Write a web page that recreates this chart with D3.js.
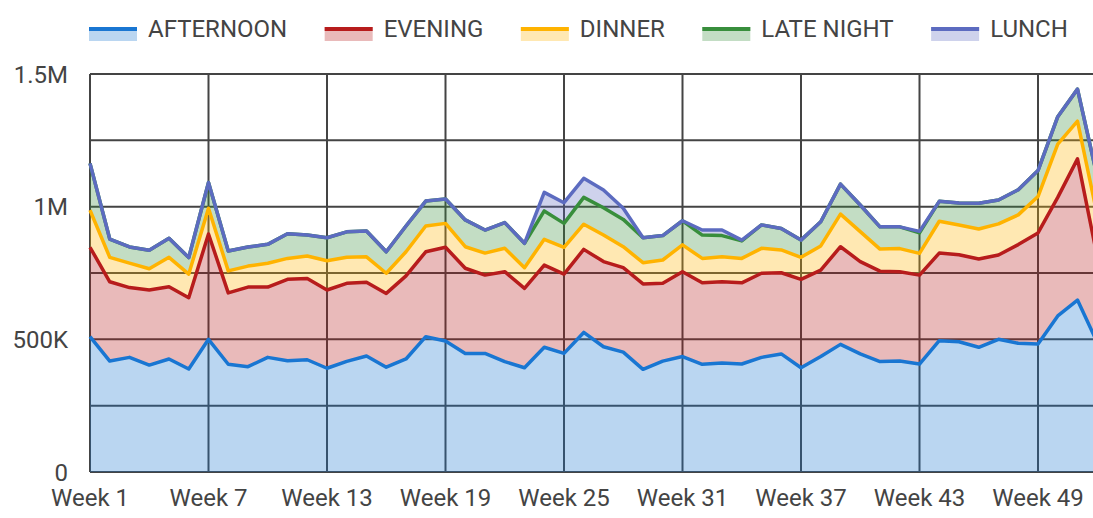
<!DOCTYPE html>
<html>

<head>
    <meta charset="utf-8">
    <style>
        body {
            margin: 0;
            background: white;
        }

        svg {
            display: block;
            overflow: hidden;
            font-family: Roboto, 'Noto Sans', sans-serif;
        }

        .label {
            font-size: 24px;
            fill: #444;
        }
    </style>
</head>

<body>
    <svg width="1093" height="518" id="chart"></svg>
</body>

<script src="https://d3js.org/d3.v7.min.js"></script>

<script>

    // weekly values (thousands)
    let weeks = d3.range(1, 53)
    let afternoon = [510, 418, 432, 403, 426, 388, 500, 406, 397, 432, 419, 423, 391, 417, 437, 395, 426, 510, 494, 447, 447, 416, 393, 470, 447, 526, 472, 452, 387, 418, 435, 406, 411, 407, 432, 445, 393, 435, 481, 445, 416, 418, 407, 495, 491, 470, 500, 485, 482, 588, 648, 488]
    let evening = [337, 299, 263, 283, 272, 269, 397, 269, 300, 265, 307, 306, 295, 294, 278, 278, 313, 320, 353, 321, 295, 339, 299, 310, 299, 313, 321, 318, 322, 293, 320, 307, 306, 306, 317, 306, 333, 326, 368, 348, 341, 337, 335, 330, 328, 333, 318, 372, 419, 447, 532, 322]
    let dinner = [140, 92, 92, 80, 111, 89, 97, 83, 79, 90, 79, 85, 110, 98, 96, 76, 91, 97, 90, 81, 83, 88, 78, 97, 101, 95, 100, 79, 80, 88, 101, 92, 94, 92, 94, 86, 83, 91, 123, 113, 83, 87, 82, 120, 112, 113, 117, 112, 137, 201, 142, 158]
    let lateNight = [176, 69, 61, 70, 72, 62, 97, 75, 72, 71, 93, 79, 87, 96, 97, 81, 97, 94, 92, 101, 87, 97, 92, 107, 90, 101, 103, 103, 94, 92, 91, 88, 80, 66, 88, 81, 65, 91, 113, 100, 84, 82, 77, 75, 83, 97, 90, 95, 98, 103, 121, 144]
    let lunch = [0, 0, 0, 0, 0, 0, 0, 0, 0, 0, 0, 0, 0, 0, 0, 0, 0, 0, 0, 0, 0, 0, 0, 70, 78, 72, 67, 42, 0, 0, 0, 19, 21, 3, 0, 0, 0, 0, 0, 0, 0, 0, 6, 0, 0, 0, 0, 0, 0, 0, 0, 0]

    let seriesNames = ["AFTERNOON", "EVENING", "DINNER", "LATE NIGHT", "LUNCH"]
    let seriesColors = ["#1976d2", "#b71c1c", "#ffb300", "#388e3c", "#5c6bc0"]
    let yTicks = [0, 250000, 500000, 750000, 1000000, 1250000, 1500000]
    let yLabels = { 0: "0", 500000: "500K", 1000000: "1M", 1500000: "1.5M" }
    let xTicks = [1, 7, 13, 19, 25, 31, 37, 43, 49]

    let allSeries = [afternoon, evening, dinner, lateNight, lunch]
    let rows = weeks.map((w, i) => {
        let r = { week: w }
        seriesNames.forEach((n, j) => r[n] = allSeries[j][i] * 1000)
        return r
    })

    let svg = d3.select("#chart")

    let x = d3.scaleLinear()
        .domain([1, 52])
        .range([90, 1097.25])

    let y = d3.scaleLinear()
        .domain([0, 1500000])
        .range([472, 74])

    // grid
    let grid = svg.append("g").attr("class", "grid")
    grid.selectAll("line.h")
        .data(yTicks)
        .join("line")
        .attr("class", "h")
        .attr("x1", x(1))
        .attr("x2", x(52))
        .attr("y1", d => y(d))
        .attr("y2", d => y(d))
        .attr("stroke", "#444")
        .attr("stroke-width", 2)
    grid.selectAll("line.v")
        .data(xTicks)
        .join("line")
        .attr("class", "v")
        .attr("x1", d => x(d))
        .attr("x2", d => x(d))
        .attr("y1", y(0))
        .attr("y2", y(1500000))
        .attr("stroke", "#444")
        .attr("stroke-width", 2)

    let stack = d3.stack().keys(seriesNames)
    let layers = stack(rows)

    let area = d3.area()
        .x(d => x(d.data.week))
        .y0(d => y(d[0]))
        .y1(d => y(d[1]))

    let line = d3.line()
        .x(d => x(d.data.week))
        .y(d => y(d[1]))

    svg.append("g")
        .selectAll("path")
        .data(layers)
        .join("path")
        .attr("d", area)
        .attr("fill", (d, i) => seriesColors[i])
        .attr("fill-opacity", 0.3)

    svg.append("g")
        .selectAll("path")
        .data(layers)
        .join("path")
        .attr("d", line)
        .attr("fill", "none")
        .attr("stroke", (d, i) => seriesColors[i])
        .attr("stroke-width", 3.5)
        .attr("stroke-linejoin", "round")

    // axis labels
    svg.append("g")
        .selectAll("text")
        .data(yTicks.filter(d => yLabels[d] != null))
        .join("text")
        .attr("class", "label")
        .attr("x", 68)
        .attr("y", d => y(d) + 8.5)
        .attr("text-anchor", "end")
        .text(d => yLabels[d])

    svg.append("g")
        .selectAll("text")
        .data(xTicks)
        .join("text")
        .attr("class", "label")
        .attr("x", d => x(d))
        .attr("y", 506)
        .attr("text-anchor", "middle")
        .text(d => "Week " + d)

    // legend
    let legend = svg.append("g").attr("class", "legend")
    let lx = 89
    seriesNames.forEach((name, i) => {
        let g = legend.append("g").attr("transform", "translate(" + lx + ",0)")
        g.append("rect")
            .attr("x", 0).attr("y", 27)
            .attr("width", 48).attr("height", 14)
            .attr("fill", seriesColors[i])
            .attr("fill-opacity", 0.3)
        g.append("rect")
            .attr("x", 0).attr("y", 27)
            .attr("width", 48).attr("height", 4)
            .attr("fill", seriesColors[i])
        let t = g.append("text")
            .attr("class", "label")
            .attr("x", 59)
            .attr("y", 37)
            .text(name)
        lx += 59 + t.node().getComputedTextLength() + 37.5
    })

</script>

</html>
